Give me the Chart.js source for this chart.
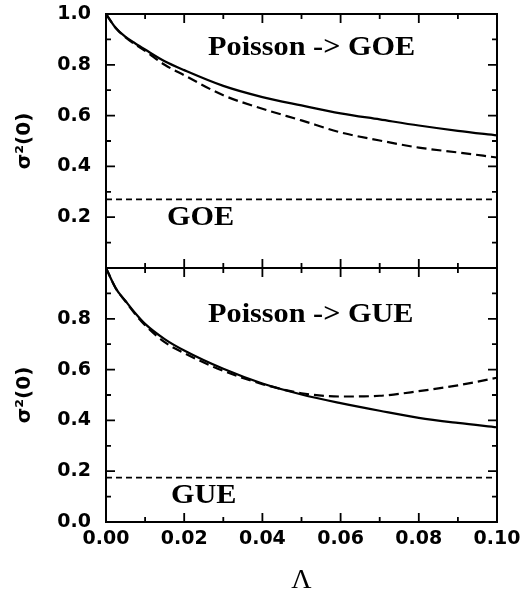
<!DOCTYPE html>
<html>
<head>
<meta charset="utf-8">
<script src="https://cdn.jsdelivr.net/npm/chart.js@4"></script>
<style>
  body { margin: 0; background: #fff; }
  canvas { display: block; }
</style>
</head>
<body>
<canvas id="c" width="520" height="601"></canvas>
<script>
// ---------- DATA ----------
let lambda    = [0, 0.0025, 0.005, 0.0075, 0.01, 0.015, 0.02, 0.03, 0.04, 0.05, 0.06, 0.07, 0.08, 0.09, 0.10];
let goeSolid  = [1.0, 0.945, 0.91, 0.884, 0.86, 0.814, 0.779, 0.717, 0.673, 0.64, 0.609, 0.585, 0.561, 0.54, 0.522];
let goeDashed = [1.0, 0.945, 0.908, 0.88, 0.855, 0.80, 0.759, 0.68, 0.627, 0.581, 0.534, 0.502, 0.474, 0.455, 0.435];
let gueSolid  = [1.0, 0.92, 0.87, 0.822, 0.78, 0.72, 0.675, 0.603, 0.545, 0.502, 0.468, 0.438, 0.41, 0.39, 0.373];
let gueDashed = [1.0, 0.92, 0.868, 0.818, 0.775, 0.708, 0.665, 0.595, 0.543, 0.507, 0.494, 0.497, 0.515, 0.538, 0.568];
let goeLevel = 0.27;
let gueLevel = 0.175;
let xRange = [0, 0.1];

// panel labels: [text, x, y, panel]
let panelLabels = [
  ["Poisson -> GOE", 0.0261, 0.838, "yTop"],
  ["GOE", 0.0156, 0.169, "yTop"],
  ["Poisson -> GUE", 0.0261, 0.787, "yBot"],
  ["GUE", 0.0166, 0.075, "yBot"]
];

const toPts = (xs, ys) => xs.map((x, i) => ({ x: x, y: ys[i] }));
const flat = v => [{ x: xRange[0], y: v }, { x: xRange[1], y: v }];

// ---------- FRAME, INWARD TICKS, LABELS ----------
const framePlugin = {
  id: "frame",
  afterDraw(chart) {
    let ctx = chart.ctx;
    let a = chart.chartArea;
    let xs = chart.scales.x;
    let top = chart.scales.yTop, bot = chart.scales.yBot;
    let mid = bot.getPixelForValue(1);

    ctx.save();
    ctx.strokeStyle = "#000";
    ctx.lineWidth = 2;
    ctx.strokeRect(a.left, a.top, a.right - a.left, a.bottom - a.top);
    ctx.beginPath();
    ctx.moveTo(a.left, mid);
    ctx.lineTo(a.right, mid);
    ctx.stroke();

    ctx.lineWidth = 1.8;
    ctx.beginPath();
    // x ticks every 0.01
    for (let i = 0; i <= 10; i++) {
      let px = xs.getPixelForValue(i / 100);
      let len = i % 2 === 0 ? 9 : 5;
      ctx.moveTo(px, a.bottom); ctx.lineTo(px, a.bottom - len);
      ctx.moveTo(px, a.top); ctx.lineTo(px, a.top + len);
      ctx.moveTo(px, mid - len); ctx.lineTo(px, mid + len);
    }
    // y ticks every 0.1 on both panels
    [top, bot].forEach(s => {
      for (let i = 0; i <= 10; i++) {
        let py = s.getPixelForValue(i / 10);
        let len = i % 2 === 0 ? 9 : 5;
        ctx.moveTo(a.left, py); ctx.lineTo(a.left + len, py);
        ctx.moveTo(a.right, py); ctx.lineTo(a.right - len, py);
      }
    });
    ctx.stroke();

    ctx.fillStyle = "#000";
    ctx.font = 'bold 28px "Liberation Serif"';
    ctx.textBaseline = "alphabetic";
    panelLabels.forEach(l => {
      let s = chart.scales[l[3]];
      ctx.save();
      ctx.translate(xs.getPixelForValue(l[1]), s.getPixelForValue(l[2]));
      ctx.scale(1.08, 1);
      ctx.fillText(l[0], 0, 0);
      ctx.restore();
    });
    ctx.restore();
  }
};

const tickFont = { family: "DejaVu Sans", size: 19, weight: "bold" };
const yTitle = {
  display: true,
  text: "\u03c3\u00b2(0)",
  color: "#000",
  font: { family: "DejaVu Sans", size: 20, weight: "bold" },
  padding: { top: 13, bottom: 0 }
};

function yScale(hideVal) {
  return {
    type: "linear",
    position: "left",
    stack: "panels",
    stackWeight: 1,
    min: 0,
    max: 1,
    grid: { display: false, drawTicks: false },
    border: { display: false },
    title: yTitle,
    ticks: {
      stepSize: 0.2,
      color: "#000",
      font: tickFont,
      padding: 15,
      callback: v => (Math.abs(v - hideVal) < 1e-6 ? "" : v.toFixed(1))
    },
    afterFit: s => { s.width = 106; s.paddingTop = 0; s.paddingBottom = 0; }
  };
}

new Chart(document.getElementById("c"), {
  type: "line",
  data: {
    datasets: [
      { data: toPts(lambda, goeSolid), yAxisID: "yTop", borderColor: "#000", borderWidth: 2.2 },
      { data: toPts(lambda, goeDashed), yAxisID: "yTop", borderColor: "#000", borderWidth: 2.2, borderDash: [10, 5] },
      { data: flat(goeLevel), yAxisID: "yTop", borderColor: "#000", borderWidth: 1.8, borderDash: [6, 4] },
      { data: toPts(lambda, gueSolid), yAxisID: "yBot", borderColor: "#000", borderWidth: 2.2 },
      { data: toPts(lambda, gueDashed), yAxisID: "yBot", borderColor: "#000", borderWidth: 2.2, borderDash: [10, 5] },
      { data: flat(gueLevel), yAxisID: "yBot", borderColor: "#000", borderWidth: 1.8, borderDash: [6, 4] }
    ]
  },
  options: {
    responsive: false,
    animation: false,
    layout: { padding: { left: 0, top: 14, right: 23, bottom: 0 } },
    elements: {
      point: { radius: 0 },
      line: { cubicInterpolationMode: "monotone", fill: false }
    },
    plugins: { legend: { display: false }, tooltip: { enabled: false } },
    scales: {
      x: {
        type: "linear",
        min: xRange[0],
        max: xRange[1],
        grid: { display: false, drawTicks: false },
        border: { display: false },
        ticks: {
          stepSize: 0.02,
          autoSkip: false,
          maxRotation: 0,
          color: "#000",
          font: tickFont,
          padding: 6,
          callback: v => v.toFixed(2)
        },
        title: {
          display: true,
          text: "\u039b",
          color: "#000",
          font: { family: "Liberation Serif", size: 28 },
          padding: { top: 0, bottom: 4 }
        },
        afterFit: s => { s.height = 79; s.paddingLeft = 0; s.paddingRight = 0; }
      },
      // stacked axes are placed bottom-up in definition order
      yBot: yScale(1),
      yTop: yScale(0)
    }
  },
  plugins: [framePlugin]
});
</script>
</body>
</html>
